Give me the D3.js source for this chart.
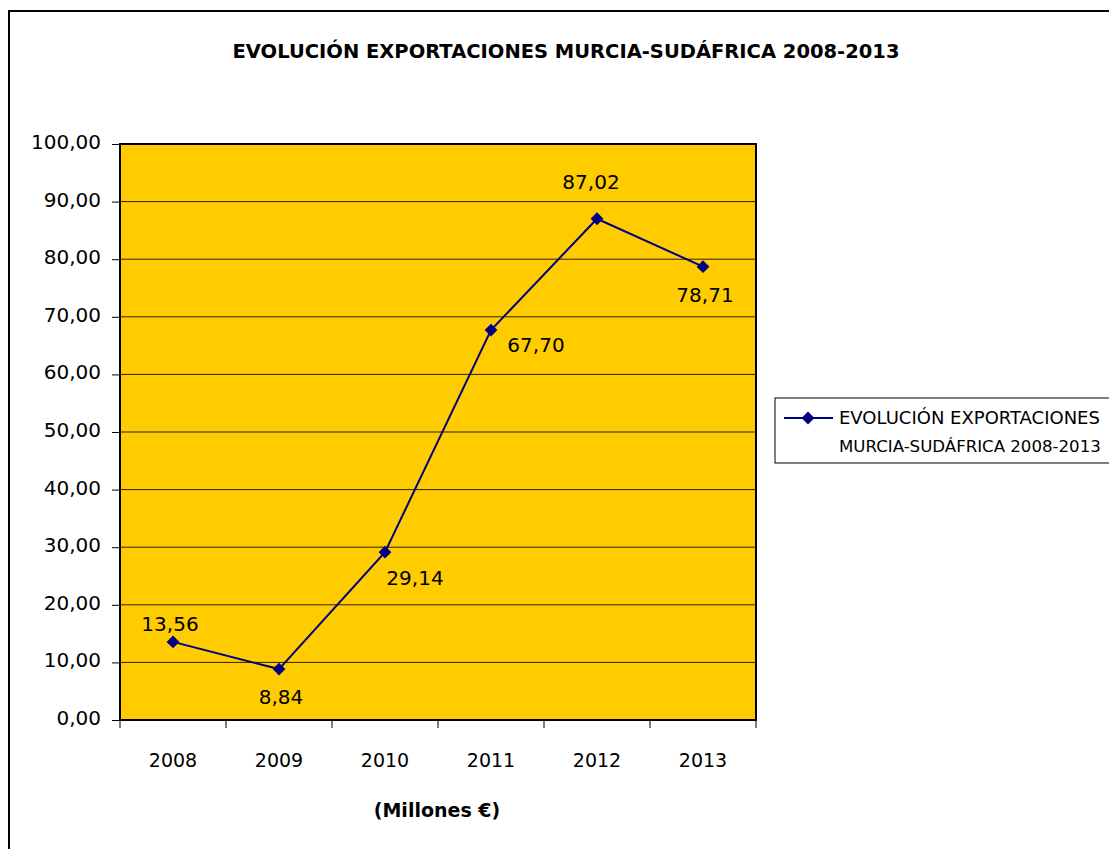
<!DOCTYPE html>
<html>
<head>
<meta charset="utf-8">
<script src="https://cdn.jsdelivr.net/npm/d3@7"></script>
<style>
  html, body { margin: 0; padding: 0; background: #fff; }
  svg { display: block; }
  text { font-family: "DejaVu Sans", Verdana, sans-serif; fill: #000; }
</style>
</head>
<body>
<script>
// Exportaciones Murcia → Sudáfrica (millones de euros)
const years = ["2008", "2009", "2010", "2011", "2012", "2013"];
const values = [13.56, 8.84, 29.14, 67.70, 87.02, 78.71];
const yTicks = [0, 10, 20, 30, 40, 50, 60, 70, 80, 90, 100];
const seriesNameLines = ["EVOLUCIÓN EXPORTACIONES", "MURCIA-SUDÁFRICA 2008-2013"];
const title = "EVOLUCIÓN EXPORTACIONES MURCIA-SUDÁFRICA 2008-2013";
const axisTitle = "(Millones €)";

// where each value label sits relative to its point
const labelPlacement = ["above", "below", "belowRight", "right", "aboveFar", "below"];

const W = 1109, H = 849;
const plot = { left: 120, top: 144, right: 756, bottom: 720 };

const svg = d3.select("body").append("svg").attr("width", W).attr("height", H);

// chart frame
svg.append("rect")
  .attr("x", 9).attr("y", 11).attr("width", W + 20).attr("height", H + 20)
  .attr("fill", "#fff").attr("stroke", "#000").attr("stroke-width", 2);

const fmt = v => d3.format(".2f")(v).replace(".", ",");

const x = d3.scaleBand().domain(years).range([plot.left, plot.right]);
const y = d3.scaleLinear().domain([0, 100]).range([plot.bottom, plot.top]);

// plot background
svg.append("rect")
  .attr("x", plot.left).attr("y", plot.top)
  .attr("width", plot.right - plot.left).attr("height", plot.bottom - plot.top)
  .attr("fill", "#FFCC00");

// gridlines
svg.append("g").selectAll("line")
  .data(yTicks.filter(t => t > 0 && t < 100))
  .join("line")
  .attr("x1", plot.left).attr("x2", plot.right)
  .attr("y1", d => y(d)).attr("y2", d => y(d))
  .attr("stroke", "#2a2200").attr("stroke-width", 1);

// plot border
svg.append("rect")
  .attr("x", plot.left).attr("y", plot.top)
  .attr("width", plot.right - plot.left).attr("height", plot.bottom - plot.top)
  .attr("fill", "none").attr("stroke", "#000").attr("stroke-width", 2);

// y axis
const yAxis = d3.axisLeft(y).tickValues(yTicks).tickFormat(fmt).tickSize(8).tickPadding(11);
const gy = svg.append("g").attr("transform", `translate(${plot.left},0)`).call(yAxis);
gy.select(".domain").remove();
gy.selectAll(".tick line").attr("stroke", "#000");
gy.selectAll(".tick text").style("font-size", "20px").style("font-family", "DejaVu Sans, sans-serif")
  .attr("dy", "0.22em");

// x axis: ticks sit at category boundaries
const gx = svg.append("g").attr("transform", `translate(0,${plot.bottom})`);
const boundaries = years.map(d => x(d)).concat([plot.right]);
gx.selectAll("line.tk").data(boundaries).join("line")
  .attr("class", "tk")
  .attr("x1", d => d).attr("x2", d => d).attr("y1", 0).attr("y2", 8)
  .attr("stroke", "#000");
gx.selectAll("text").data(years).join("text")
  .attr("x", d => x(d) + x.bandwidth() / 2)
  .attr("y", 47)
  .attr("text-anchor", "middle")
  .style("font-size", "19px")
  .text(d => d);

// series line
const pts = years.map((yr, i) => ({ yr, v: values[i], px: x(yr) + x.bandwidth() / 2, py: y(values[i]) }));
svg.append("path")
  .datum(pts)
  .attr("d", d3.line().x(d => d.px).y(d => d.py))
  .attr("fill", "none").attr("stroke", "#000080").attr("stroke-width", 2);

const marker = d3.symbol().type(d3.symbolSquare).size(82);
svg.append("g").selectAll("path")
  .data(pts).join("path")
  .attr("d", marker)
  .attr("transform", d => `translate(${d.px},${d.py}) rotate(45)`)
  .attr("fill", "#000080");

// value labels
const offsets = {
  above: { dx: -3, dy: -11 },
  aboveFar: { dx: -6, dy: -30 },
  below: { dx: 2, dy: 35 },
  belowRight: { dx: 30, dy: 33 },
  right: { dx: 45, dy: 22 }
};
svg.append("g").selectAll("text")
  .data(pts).join("text")
  .attr("x", (d, i) => d.px + offsets[labelPlacement[i]].dx)
  .attr("y", (d, i) => d.py + offsets[labelPlacement[i]].dy)
  .attr("text-anchor", "middle")
  .style("font-size", "20px")
  .text(d => fmt(d.v));

// title
svg.append("text")
  .attr("x", 566).attr("y", 58)
  .attr("text-anchor", "middle")
  .style("font-size", "19.5px").style("font-weight", "bold")
  .text(title);

// axis title
svg.append("text")
  .attr("x", 437).attr("y", 817)
  .attr("text-anchor", "middle")
  .style("font-size", "19px").style("font-weight", "bold")
  .text(axisTitle);

// legend
const lg = svg.append("g");
lg.append("rect")
  .attr("x", 775).attr("y", 398).attr("width", 345).attr("height", 65)
  .attr("fill", "#fff").attr("stroke", "#000").attr("stroke-width", 1);
lg.append("line")
  .attr("x1", 784).attr("x2", 833).attr("y1", 418).attr("y2", 418)
  .attr("stroke", "#000080").attr("stroke-width", 2);
lg.append("path")
  .attr("d", marker)
  .attr("transform", "translate(808,418) rotate(45)")
  .attr("fill", "#000080");
lg.selectAll("text.item").data(seriesNameLines).join("text")
  .attr("class", "item")
  .attr("x", 839).attr("y", (d, i) => 424 + i * 28)
  .style("font-size", (d, i) => i === 1 ? "16.6px" : "18px")
  .text(d => d);
</script>
</body>
</html>
